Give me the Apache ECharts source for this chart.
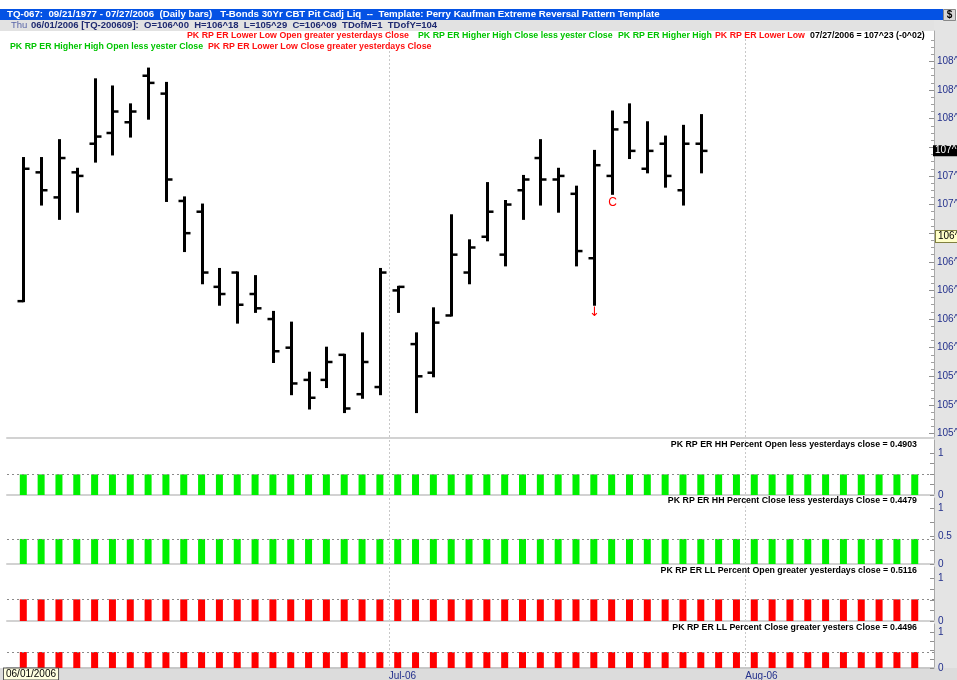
<!DOCTYPE html>
<html><head><meta charset="utf-8">
<script src="https://cdn.jsdelivr.net/npm/echarts@6/dist/echarts.min.js"></script>
<style>html,body{margin:0;padding:0;background:#fff}#c{width:957px;height:680px}</style>
</head><body><div id="c"></div>
<script>
// ---- Price bars (T-Bond prices in 32nds) ----
const opens  = ['106^13','107^17','107^10','107^17','107^25','107^28','107^31','108^12','108^07','107^09',
                '107^06','106^17','106^21','106^15','106^08','106^00','105^23','105^23','105^30','105^19',
                '105^21','106^16','106^01','105^25','106^09','106^21','106^31','106^26','107^12','107^21',
                '107^15','107^11','106^25','107^16','107^31','107^18','107^25','107^12','107^25'];
const highs  = ['107^21','107^21','107^26','107^18','108^11','108^09','108^04','108^14','108^10','107^10',
                '107^08','106^22','106^21','106^20','106^10','106^07','105^25','106^00','105^30','106^04',
                '106^22','106^17','106^04','106^11','107^05','106^30','107^14','107^09','107^16','107^26',
                '107^18','107^13','107^23','108^02','108^04','107^31','107^27','107^30','108^01'];
const lows   = ['106^13','107^08','107^04','107^06','107^20','107^22','107^27','108^00','107^09','106^27',
                '106^18','106^12','106^07','106^10','105^28','105^19','105^15','105^21','105^14','105^18',
                '105^19','106^10','105^14','105^24','106^09','106^18','106^30','106^23','107^04','107^08',
                '107^06','106^23','106^12','107^11','107^21','107^17','107^13','107^08','107^17'];
const closes = ['107^18','107^12','107^21','107^16','107^27','108^02','108^02','108^10','107^15','107^00',
                '106^21','106^15','106^12','106^11','105^31','105^22','105^18','105^28','105^15','105^28',
                '106^21','106^17','105^24','106^07','106^26','106^28','107^06','107^08','107^15','107^15',
                '107^16','106^27','107^19','107^29','107^23','107^23','107^16','107^25','107^23'];
// signal annotations by bar index
const annotations = {32: '\u2193', 33: 'C'};
// price axis tick labels
const priceTicks = ['105^08','105^16','105^24','106^00','106^08','106^16','106^24','107^00',
                    '107^08','107^16','107^24','108^00','108^08','108^16'];
const lastPrice = '107^23';
const cursorPrice = '106^31';
// month boundaries (bar-slot positions) and labels
const monthTicks  = [20.5, 40.5];
const monthLabels = ['Jul-06', 'Aug-06'];

// ---- Indicator panels ----
const hhOpenPct  = [0.4903,0.4903,0.4903,0.4903,0.4903,0.4903,0.4903,0.4903,0.4903,0.4903,0.4903,0.4903,0.4903,0.4903,0.4903,0.4903,0.4903,0.4903,0.4903,0.4903,0.4903,0.4903,0.4903,0.4903,0.4903,0.4903,0.4903,0.4903,0.4903,0.4903,0.4903,0.4903,0.4903,0.4903,0.4903,0.4903,0.4903,0.4903,0.4903,0.4903,0.4903,0.4903,0.4903,0.4903,0.4903,0.4903,0.4903,0.4903,0.4903,0.4903,0.4903];
const hhClosePct = [0.4479,0.4479,0.4479,0.4479,0.4479,0.4479,0.4479,0.4479,0.4479,0.4479,0.4479,0.4479,0.4479,0.4479,0.4479,0.4479,0.4479,0.4479,0.4479,0.4479,0.4479,0.4479,0.4479,0.4479,0.4479,0.4479,0.4479,0.4479,0.4479,0.4479,0.4479,0.4479,0.4479,0.4479,0.4479,0.4479,0.4479,0.4479,0.4479,0.4479,0.4479,0.4479,0.4479,0.4479,0.4479,0.4479,0.4479,0.4479,0.4479,0.4479,0.4479];
const llOpenPct  = [0.5116,0.5116,0.5116,0.5116,0.5116,0.5116,0.5116,0.5116,0.5116,0.5116,0.5116,0.5116,0.5116,0.5116,0.5116,0.5116,0.5116,0.5116,0.5116,0.5116,0.5116,0.5116,0.5116,0.5116,0.5116,0.5116,0.5116,0.5116,0.5116,0.5116,0.5116,0.5116,0.5116,0.5116,0.5116,0.5116,0.5116,0.5116,0.5116,0.5116,0.5116,0.5116,0.5116,0.5116,0.5116,0.5116,0.5116,0.5116,0.5116,0.5116,0.5116];
const llClosePct = [0.4496,0.4496,0.4496,0.4496,0.4496,0.4496,0.4496,0.4496,0.4496,0.4496,0.4496,0.4496,0.4496,0.4496,0.4496,0.4496,0.4496,0.4496,0.4496,0.4496,0.4496,0.4496,0.4496,0.4496,0.4496,0.4496,0.4496,0.4496,0.4496,0.4496,0.4496,0.4496,0.4496,0.4496,0.4496,0.4496,0.4496,0.4496,0.4496,0.4496,0.4496,0.4496,0.4496,0.4496,0.4496,0.4496,0.4496,0.4496,0.4496,0.4496,0.4496];
const panelTitles = [
  'PK RP ER HH Percent Open less yesterdays close',
  'PK RP ER HH Percent Close less yesterdays Close',
  'PK RP ER LL Percent Open greater yesterdays close',
  'PK RP ER LL Percent Close greater yesters Close'
];
const panelLabels = [[0, 1], [0, 0.5, 1], [0, 1], [0, 1]];

// ---- helpers ----
function parse32(s) { const p = s.split('^'); return +p[0] + (+p[1]) / 32; }
function fmt32(v) {
  const w = Math.floor(v + 1e-9); const n = Math.round((v - w) * 32);
  return w + '^' + String(n).padStart(2, '0');
}
const FONT = 'Liberation Sans';
const NAVY = '#23308c';
const GREEN = '#00f000', RED = '#ff0000';
const TXT_GREEN = '#00c400', TXT_RED = '#ff1010';

const ohlc = opens.map((o, i) => [i, parse32(o), parse32(highs[i]), parse32(lows[i]), parse32(closes[i])]);
const priceTickVals = priceTicks.map(parse32);
// minor ticks every 2/32 between major ticks
const minorTicks = [];
priceTickVals.forEach(v => { for (let j = 1; j < 4; j++) minorTicks.push(v + j * 2 / 32); });
minorTicks.push(priceTickVals[0] - 2 / 32);
const boxedPrices = [parse32(lastPrice), parse32(cursorPrice)];

const XMIN = -0.914, XMAX = 51.08;
const grids = [
  {left: 7, right: 23, top: 31, height: 407},
  {left: 7, right: 23, top: 440, height: 55},
  {left: 7, right: 23, top: 498, height: 66},
  {left: 7, right: 23, top: 567, height: 54},
  {left: 7, right: 23, top: 624, height: 44}
].map(g => Object.assign({outerBoundsMode: 'none', containLabel: false}, g));

const xAxes = grids.map((g, k) => ({
  type: 'value', gridIndex: k, min: XMIN, max: XMAX,
  axisLine: {show: true, onZero: false, lineStyle: {color: k === 4 ? '#c8c8c8' : '#d2d2d2', width: 2}},
  axisTick: {show: false, customValues: monthTicks},
  splitLine: {show: true, lineStyle: {color: '#c8c8c8', type: [2, 2], width: 1}},
  axisLabel: k === 4 ? {
    show: true, customValues: monthTicks, align: 'left', margin: 3,
    fontFamily: FONT, fontSize: 10, color: NAVY,
    formatter: v => monthLabels[monthTicks.findIndex(m => Math.abs(m - v) < 1e-6)] || ''
  } : {show: false}
}));

const PMIN = 107.75 - 290.7 / 114.5, PMAX = 107.75 + 116.3 / 114.5;
const yAxes = [
  {
    type: 'value', gridIndex: 0, position: 'right', min: PMIN, max: PMAX,
    axisLine: {show: true, onZero: false, lineStyle: {color: '#a8a8a8', width: 1}},
    axisTick: {show: true, inside: true, length: 5, customValues: priceTickVals, lineStyle: {color: '#909090'}},
    axisLabel: {show: true, customValues: priceTickVals, margin: 3,
      formatter: v => boxedPrices.some(b => Math.abs(b - v) < 0.07) ? '' : fmt32(v),
      fontFamily: FONT, fontSize: 10, color: NAVY},
    splitLine: {show: false}
  },
  {
    type: 'value', gridIndex: 0, position: 'right', offset: 0, min: PMIN, max: PMAX,
    axisLine: {show: false, onZero: false},
    axisTick: {show: true, inside: true, length: 3, customValues: minorTicks, lineStyle: {color: '#a0a0a0'}},
    axisLabel: {show: false}, splitLine: {show: false}
  }
];
const panelMax = [1.31, 1.18, 1.274, 1.24];
for (let k = 0; k < 4; k++) {
  yAxes.push({
    type: 'value', gridIndex: k + 1, position: 'right', min: 0, max: panelMax[k],
    axisLine: {show: true, onZero: false, lineStyle: {color: '#a8a8a8', width: 1}},
    axisTick: {show: true, inside: true, length: 4, customValues: [0, 0.25, 0.5, 0.75, 1], lineStyle: {color: '#909090'}},
    axisLabel: {show: true, customValues: panelLabels[k], margin: 4, fontFamily: FONT, fontSize: 10, color: NAVY},
    splitLine: {show: false}
  });
}

const priceSeries = {
  type: 'custom', xAxisIndex: 0, yAxisIndex: 0, data: ohlc, z: 5,
  encode: {x: 0, y: [1, 2, 3, 4]},
  renderItem: function (params, api) {
    const i = api.value(0);
    const o = api.coord([i, api.value(1)]);
    const h = api.coord([i, api.value(2)]);
    const l = api.coord([i, api.value(3)]);
    const c = api.coord([i, api.value(4)]);
    const x = Math.round(h[0]) + 0.5;
    const children = [
      {type: 'line', shape: {x1: x, y1: h[1] - 1, x2: x, y2: l[1] + 1}, style: {stroke: '#000', lineWidth: 3}},
      {type: 'line', shape: {x1: x - 6, y1: o[1], x2: x, y2: o[1]}, style: {stroke: '#000', lineWidth: 2.5}},
      {type: 'line', shape: {x1: x, y1: c[1], x2: x + 6, y2: c[1]}, style: {stroke: '#000', lineWidth: 2.5}}
    ];
    const ann = annotations[params.dataIndex];
    if (ann) {
      children.push({type: 'text', x: x, y: l[1] + (ann === 'C' ? 3 : 1),
        style: {text: ann, fill: RED, align: 'center', verticalAlign: 'top',
          font: ann === 'C' ? '12px "Liberation Sans"' : '13px "DejaVu Sans"'}});
    }
    return {type: 'group', children: children};
  }
};

const clear = {color: 'rgba(0,0,0,0)', width: 0};
const refSeries = {
  type: 'line', xAxisIndex: 0, yAxisIndex: 0, data: [[0, parse32(closes[0])]],
  showSymbol: false, lineStyle: clear, silent: true, z: 6,
  markLine: {
    silent: true, symbol: 'none', lineStyle: clear,
    data: [
      {yAxis: parse32(lastPrice), lineStyle: clear, label: {show: true, position: 'end', distance: -1, formatter: lastPrice,
        backgroundColor: '#000', color: '#fff', fontFamily: FONT, fontSize: 10, padding: [1, 2, 0, 2]}},
      {yAxis: parse32(cursorPrice), lineStyle: clear, label: {show: true, position: 'end', distance: 2, formatter: cursorPrice,
        backgroundColor: '#ffffc8', color: '#000', borderColor: '#808040', borderWidth: 1,
        fontFamily: FONT, fontSize: 10, padding: [1, 2, 0, 2]}}
    ]
  }
};

const panelData = [hhOpenPct, hhClosePct, llOpenPct, llClosePct];
const panelColors = [GREEN, GREEN, RED, RED];
const barSeries = panelData.map((arr, k) => ({
  type: 'bar', xAxisIndex: k + 1, yAxisIndex: k + 2, barWidth: 7,
  data: arr.map((v, i) => [i, v]),
  itemStyle: {color: panelColors[k]},
  markLine: {
    silent: true, symbol: 'none', label: {show: false},
    lineStyle: {color: '#8a8a8a', type: [2, 3], width: 1},
    data: [{yAxis: arr[arr.length - 1]}]
  }
}));

function txt(x, y, text, fill, opts) {
  return {type: 'text', x: x, y: y, z: 100, silent: true,
    style: Object.assign({text: text, fill: fill, font: 'bold 8.8px "Liberation Sans"',
      verticalAlign: 'middle', align: 'left'}, (opts || {}))};
}
const panelTextY = [444.7, 500.7, 570.7, 627.3];
const graphics = [
  {type: 'rect', z: -10, silent: true, shape: {x: 0, y: 9, width: 943, height: 11}, style: {fill: '#0452e4'}},
  {type: 'rect', z: -10, silent: true, shape: {x: 0, y: 20, width: 957, height: 11}, style: {fill: '#e2e2e2'}},
  {type: 'rect', z: -10, silent: true, shape: {x: 934, y: 20, width: 23, height: 660}, style: {fill: '#e4e4e4'}},
  {type: 'rect', z: -10, silent: true, shape: {x: 0, y: 668, width: 957, height: 12}, style: {fill: '#dcdcdc'}},
  {type: 'rect', z: 90, silent: true, shape: {x: 943.5, y: 9.5, width: 12, height: 11},
    style: {fill: '#d8d8d8', stroke: '#888', lineWidth: 1}},
  txt(949.5, 15, '$', '#000', {align: 'center', font: 'bold 10px "Liberation Sans"'}),
  txt(7, 14.5, 'TQ-067:  09/21/1977 - 07/27/2006  (Daily bars)   T-Bonds 30Yr CBT Pit Cadj Liq  --  Template: Perry Kaufman Extreme Reversal Pattern Template',
      '#fff', {font: 'bold 9.7px "Liberation Sans"'}),
  txt(11, 25.5, 'Thu', '#5a66a8', {font: '9.5px "Liberation Sans"'}),
  txt(31, 25.5, '06/01/2006 [TQ-200609]:  O=106^00  H=106^18  L=105^29  C=106^09  TDofM=1  TDofY=104',
      '#1f2a70', {font: 'bold 9.5px "Liberation Sans"'}),
  txt(187, 36, 'PK RP ER Lower Low Open greater yesterdays Close', TXT_RED),
  txt(418, 36, 'PK RP ER Higher High Close less yester Close', TXT_GREEN),
  txt(618, 36, 'PK RP ER Higher High', TXT_GREEN),
  txt(715, 36, 'PK RP ER Lower Low', TXT_RED),
  txt(810, 36, '07/27/2006 = ' + lastPrice + ' (-0^02)', '#000'),
  txt(10, 47, 'PK RP ER Higher High Open less yester Close', TXT_GREEN),
  txt(208, 47, 'PK RP ER Lower Low Close greater yesterdays Close', TXT_RED),
  txt(4, 674, '06/01/2006', '#000', {font: '10px "Liberation Sans"', backgroundColor: '#ffffe0',
      borderColor: '#555', borderWidth: 1, padding: [1, 2, 0, 2]})
];
panelTitles.forEach((t, k) => {
  graphics.push(txt(917, panelTextY[k], t + ' = ' + panelData[k][0].toFixed(4), '#000', {align: 'right'}));
});

const chart = echarts.init(document.getElementById('c'), null, {renderer: 'canvas'});
chart.setOption({
  backgroundColor: '#ffffff',
  animation: false,
  grid: grids,
  xAxis: xAxes,
  yAxis: yAxes,
  series: [priceSeries, refSeries].concat(barSeries),
  graphic: {elements: graphics}
});
</script>
</body></html>
